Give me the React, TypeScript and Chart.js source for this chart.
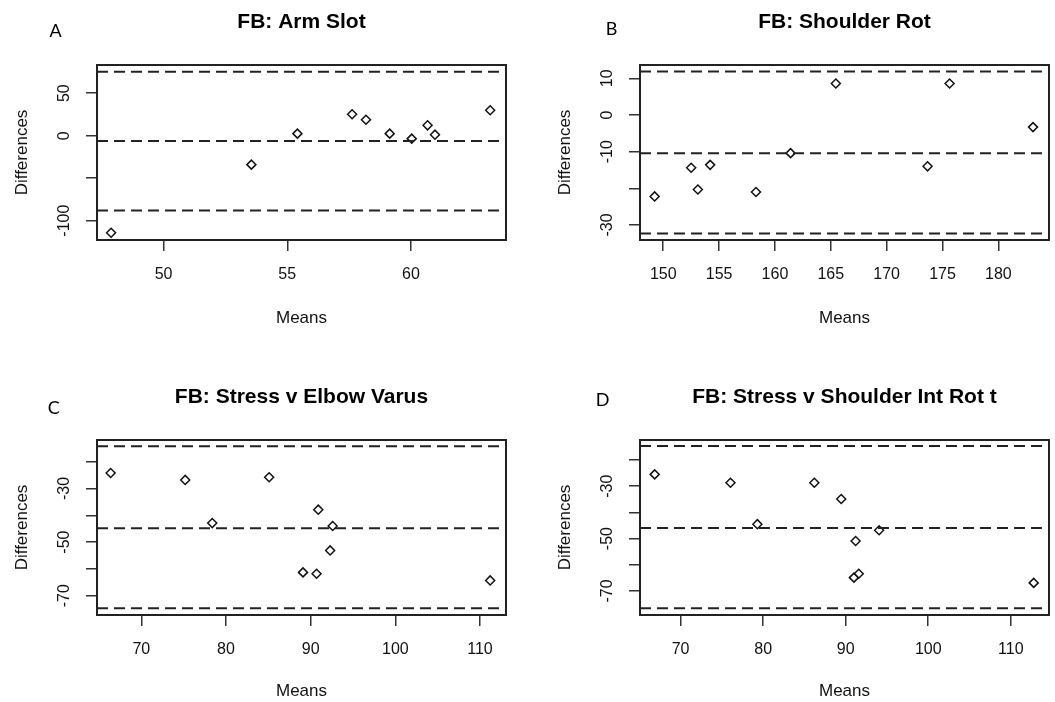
import React, { useEffect, useRef } from 'react';
import { Chart, registerables } from 'chart.js';

Chart.register(...registerables);

// ---------- Panel A: FB: Arm Slot ----------
const meansA = [47.88, 53.55, 55.41, 57.62, 58.18, 59.14, 60.03, 60.67, 60.97, 63.2];
const diffsA = [-114.2, -34.1, 2.4, 25.2, 18.8, 2.4, -3.5, 12.2, 1.2, 29.9];
const limitsA = [75.4, -6.3, -88.0];
const xRangeA = [47.31, 63.84];
const yRangeA = [-122.8, 83.2];
const xTicksA = [50, 55, 60];
const yTicksA = [-100, -50, 0, 50];
const yLabelsA = ['-100', '', '0', '50'];

// ---------- Panel B: FB: Shoulder Rot ----------
const meansB = [149.23, 152.5, 153.1, 154.2, 158.3, 161.4, 165.45, 173.66, 175.63, 183.1];
const diffsB = [-22.2, -14.4, -20.3, -13.6, -21.0, -10.4, 8.6, -14.0, 8.6, -3.3];
const limitsB = [11.9, -10.4, -32.3];
const xRangeB = [147.92, 184.53];
const yRangeB = [-34.09, 13.64];
const xTicksB = [150, 155, 160, 165, 170, 175, 180];
const yTicksB = [-30, -20, -10, 0, 10];
const yLabelsB = ['-30', '', '-10', '0', '10'];

// ---------- Panel C: FB: Stress v Elbow Varus ----------
const meansC = [66.38, 75.19, 78.38, 85.1, 89.1, 90.7, 90.9, 92.3, 92.6, 111.2];
const diffsC = [-24.2, -26.8, -42.9, -25.8, -61.3, -61.8, -37.9, -53.1, -44.0, -64.3];
const limitsC = [-14.2, -44.8, -74.7];
const xRangeC = [64.77, 113.07];
const yRangeC = [-77.2, -11.9];
const xTicksC = [70, 80, 90, 100, 110];
const yTicksC = [-70, -60, -50, -40, -30, -20];
const yLabelsC = ['-70', '', '-50', '', '-30', ''];

// ---------- Panel D: FB: Stress v Shoulder Int Rot t ----------
const meansD = [66.86, 76.04, 79.3, 86.2, 89.46, 91.2, 91.0, 91.58, 94.05, 112.78];
const diffsD = [-25.5, -28.7, -44.5, -28.7, -34.9, -50.9, -64.9, -63.4, -46.8, -66.9];
const limitsD = [-14.7, -46.0, -76.6];
const xRangeD = [65.08, 114.63];
const yRangeD = [-79.16, -12.37];
const xTicksD = [70, 80, 90, 100, 110];
const yTicksD = [-70, -60, -50, -40, -30, -20];
const yLabelsD = ['-70', '', '-50', '', '-30', ''];

const titles = ['FB: Arm Slot', 'FB: Shoulder Rot', 'FB: Stress v Elbow Varus', 'FB: Stress v Shoulder Int Rot t'];
const panelLetters = ['A', 'B', 'C', 'D'];
const xAxisTitle = 'Means';
const yAxisTitle = 'Differences';

const FONT = "'Liberation Sans', Arial, sans-serif";
const TICK_LEN = 11;
const AXIS_W = 97;
const AREA_BOTTOM = 240;
const TEXT_COLOR = '#111';

type PanelCfg = {
  title: string;
  means: number[];
  diffs: number[];
  limits: number[];
  xRange: number[];
  yRange: number[];
  xTicks: number[];
  yTicks: number[];
  yLabels: string[];
  left: number;
  top: number;
  w: number;
  h: number;
  padRight: number;
  xTitlePad: number;
};

const panels: PanelCfg[] = [
  { title: titles[0], means: meansA, diffs: diffsA, limits: limitsA, xRange: xRangeA, yRange: yRangeA, xTicks: xTicksA, yTicks: yTicksA, yLabels: yLabelsA, left: 0, top: 0, w: 530, h: 345, padRight: 24, xTitlePad: 16.3 },
  { title: titles[1], means: meansB, diffs: diffsB, limits: limitsB, xRange: xRangeB, yRange: yRangeB, xTicks: xTicksB, yTicks: yTicksB, yLabels: yLabelsB, left: 543, top: 0, w: 512, h: 345, padRight: 5, xTitlePad: 16.8 },
  { title: titles[2], means: meansC, diffs: diffsC, limits: limitsC, xRange: xRangeC, yRange: yRangeC, xTicks: xTicksC, yTicks: yTicksC, yLabels: yLabelsC, left: 0, top: 375, w: 530, h: 327, padRight: 24, xTitlePad: 0.3 },
  { title: titles[3], means: meansD, diffs: diffsD, limits: limitsD, xRange: xRangeD, yRange: yRangeD, xTicks: xTicksD, yTicks: yTicksD, yLabels: yLabelsD, left: 543, top: 375, w: 512, h: 327, padRight: 5, xTitlePad: 0.3 },
];

const letterPos = [
  { cx: 55.7, cy: 30 },
  { cx: 611.7, cy: 28.5 },
  { cx: 53.8, cy: 407.5 },
  { cx: 602.5, cy: 399 },
];

const boxPlugin = {
  id: 'plotBox',
  afterDraw(chart: any) {
    const { ctx, chartArea: a } = chart;
    ctx.save();
    ctx.strokeStyle = '#222';
    ctx.lineWidth = 2;
    ctx.strokeRect(a.left, a.top, a.right - a.left, a.bottom - a.top);
    ctx.restore();
  },
};

function Panel({ cfg }: { cfg: PanelCfg }) {
  const ref = useRef<HTMLCanvasElement>(null);
  useEffect(() => {
    const canvas = ref.current!;
    const mctx = document.createElement('canvas').getContext('2d')!;
    mctx.font = `16px ${FONT}`;
    const widest = Math.max(...cfg.yLabels.map((l) => mctx.measureText(l).width));
    const yPad = 32 - TICK_LEN - widest / 2;

    const lineSets = cfg.limits.map((v) => ({
      data: [
        { x: cfg.xRange[0], y: v },
        { x: cfg.xRange[1], y: v },
      ],
      showLine: true,
      pointRadius: 0,
      borderColor: '#222',
      borderWidth: 2,
      borderDash: [11, 6],
      fill: false,
    }));
    const pointSet = {
      data: cfg.means.map((x, i) => ({ x, y: cfg.diffs[i] })),
      pointStyle: 'rectRot',
      pointRadius: 4.5,
      borderColor: '#111',
      borderWidth: 1.5,
      backgroundColor: 'rgba(0,0,0,0)',
      showLine: false,
    };

    const chart = new Chart(canvas, {
      type: 'scatter',
      data: { datasets: [...lineSets, pointSet] as any },
      options: {
        responsive: false,
        maintainAspectRatio: false,
        animation: false,
        events: [],
        layout: { padding: { left: 0, top: 0, right: cfg.padRight, bottom: 0 } },
        plugins: {
          legend: { display: false },
          tooltip: { enabled: false },
          title: {
            display: true,
            text: cfg.title,
            fullSize: false,
            color: '#000',
            font: { family: FONT, size: 21, weight: 'bold', lineHeight: 1.2 },
            padding: { top: 9.9, bottom: 29.9 },
          },
        },
        scales: {
          x: {
            type: 'linear',
            position: 'bottom',
            min: cfg.xRange[0],
            max: cfg.xRange[1],
            afterBuildTicks: (s: any) => {
              s.ticks = cfg.xTicks.map((v) => ({ value: v }));
            },
            afterFit: (s: any) => {
              s.height = cfg.h - AREA_BOTTOM;
            },
            ticks: {
              autoSkip: false,
              maxRotation: 0,
              minRotation: 0,
              padding: 14,
              color: TEXT_COLOR,
              font: { family: FONT, size: 16 },
              callback: (v: any) => String(v),
            },
            grid: { drawOnChartArea: false, drawTicks: true, tickLength: TICK_LEN, color: '#333', lineWidth: 1.5 },
            border: { display: false },
            title: {
              display: true,
              text: xAxisTitle,
              color: TEXT_COLOR,
              font: { family: FONT, size: 17, lineHeight: 1.2 },
              padding: { top: 0, bottom: cfg.xTitlePad },
            },
          },
          y: {
            type: 'linear',
            position: 'left',
            min: cfg.yRange[0],
            max: cfg.yRange[1],
            afterBuildTicks: (s: any) => {
              s.ticks = cfg.yTicks.map((v) => ({ value: v }));
            },
            afterFit: (s: any) => {
              s.width = AXIS_W;
            },
            ticks: {
              autoSkip: false,
              minRotation: 90,
              maxRotation: 90,
              crossAlign: 'center',
              padding: yPad,
              color: TEXT_COLOR,
              font: { family: FONT, size: 16 },
              callback: (v: any) => {
                const i = cfg.yTicks.indexOf(Number(v));
                return i >= 0 ? cfg.yLabels[i] : '';
              },
            },
            grid: { drawOnChartArea: false, drawTicks: true, tickLength: TICK_LEN, color: '#333', lineWidth: 1.5 },
            border: { display: false },
            title: {
              display: true,
              text: yAxisTitle,
              color: TEXT_COLOR,
              font: { family: FONT, size: 17, lineHeight: 1.2 },
              padding: { top: 11.8, bottom: 0 },
            },
          },
        },
      } as any,
      plugins: [boxPlugin],
    });
    return () => chart.destroy();
  }, [cfg]);

  return (
    <canvas
      ref={ref}
      width={cfg.w}
      height={cfg.h}
      style={{ position: 'absolute', left: cfg.left, top: cfg.top, width: cfg.w, height: cfg.h, display: 'block' }}
    />
  );
}

export default function App() {
  return (
    <div style={{ position: 'absolute', left: 0, top: 0, width: 1055, height: 702, overflow: 'hidden', background: '#fff' }}>
      {panels.map((p, i) => (
        <Panel key={i} cfg={p} />
      ))}
      {panelLetters.map((l, i) => (
        <div
          key={l}
          style={{
            position: 'absolute',
            left: letterPos[i].cx - 12,
            top: letterPos[i].cy - 12.5,
            width: 24,
            height: 24,
            lineHeight: '24px',
            textAlign: 'center',
            fontFamily: 'Lato, sans-serif',
            fontSize: 18,
            color: '#000',
          }}
        >
          {l}
        </div>
      ))}
    </div>
  );
}
